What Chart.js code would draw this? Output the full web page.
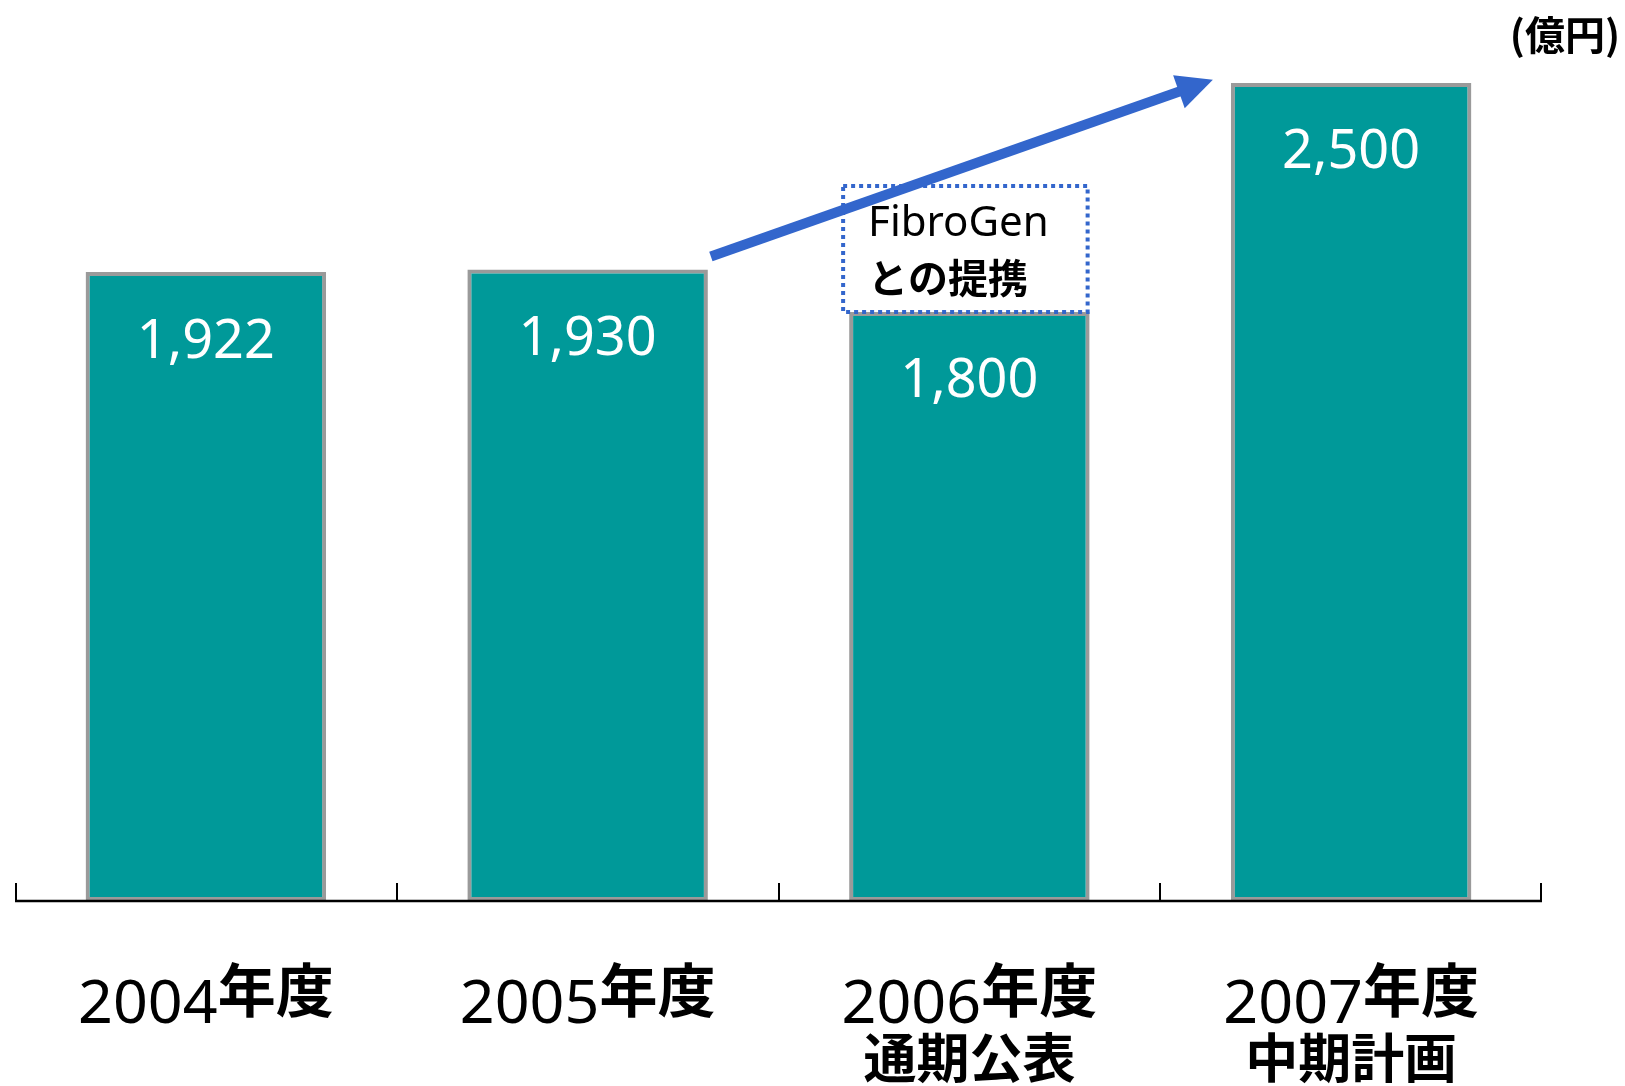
<!DOCTYPE html>
<html>
<head>
<meta charset="utf-8">
<script src="https://cdn.jsdelivr.net/npm/chart.js@4.4.1/dist/chart.umd.min.js"></script>
<style>
  html, body { margin: 0; padding: 0; background: #ffffff; }
  #wrap { width: 1625px; height: 1086px; position: relative; }
  canvas { display: block; }
</style>
</head>
<body>
<div id="wrap"><canvas id="c" width="1625" height="1086"></canvas></div>
<script>
// ---- Data ----
const yearLabels = ['2004', '2005', '2006', '2007'];
const yearSuffix = ['年度', '年度', '年度', '年度'];
const subLabels = ['', '', '通期公表', '中期計画'];
const salesValues = [1922, 1930, 1800, 2500];
const valueLabels = ['1,922', '1,930', '1,800', '2,500'];
const unitLabel = '(億円)';
const noteLines = ['FibroGen', 'との提携'];
const noteTopValue = 2185;      // top of the dotted note box (value units)
const noteCategory = 2;         // index of 2006
const arrowFrom = { index: 1, value: 1970 };
const arrowTo = { index: 3, value: 2510 };

const TEAL = '#009999';
const GRAY = '#9a9a9a';
const BLUE = '#3366cc';
const CJK = '"Noto Sans CJK JP", "Noto Sans", sans-serif';
const LAT = '"Noto Sans", "Open Sans", sans-serif';

const overlay = {
  id: 'overlay',
  afterDatasetsDraw(chart) {
    const ctx = chart.ctx;
    const x = chart.scales.x, y = chart.scales.y;
    const area = chart.chartArea;
    const meta = chart.getDatasetMeta(0);
    const catW = (area.right - area.left) / yearLabels.length;

    // Axis line and upward ticks
    ctx.save();
    ctx.strokeStyle = '#000';
    ctx.lineWidth = 2.5;
    ctx.beginPath();
    ctx.moveTo(area.left, area.bottom);
    ctx.lineTo(area.right, area.bottom);
    ctx.stroke();
    ctx.lineWidth = 2;
    for (let i = 0; i <= yearLabels.length; i++) {
      const px = Math.round(area.left + catW * i) + (i === 0 ? 1 : (i === yearLabels.length ? -1 : 0));
      ctx.beginPath();
      ctx.moveTo(px, area.bottom);
      ctx.lineTo(px, area.bottom - 18);
      ctx.stroke();
    }
    ctx.restore();

    // Value labels inside bars
    ctx.save();
    ctx.fillStyle = '#ffffff';
    ctx.font = '54px ' + LAT;
    ctx.textAlign = 'center';
    ctx.textBaseline = 'middle';
    meta.data.forEach((bar, i) => {
      ctx.fillText(valueLabels[i], bar.x, bar.y + 70);
    });
    ctx.restore();

    // Category labels
    ctx.save();
    ctx.fillStyle = '#000';
    ctx.textBaseline = 'alphabetic';
    yearLabels.forEach((yr, i) => {
      const cx = x.getPixelForValue(i);
      ctx.font = '61px ' + LAT;
      const w1 = ctx.measureText(yr).width;
      ctx.font = 'bold 58px ' + CJK;
      const w2 = ctx.measureText(yearSuffix[i]).width;
      const start = cx - (w1 + w2) / 2;
      ctx.textAlign = 'left';
      ctx.font = '61px ' + LAT;
      ctx.fillText(yr, start, 1023);
      ctx.font = 'bold 58px ' + CJK;
      ctx.fillText(yearSuffix[i], start + w1, 1012);
      if (subLabels[i]) {
        ctx.textAlign = 'center';
        ctx.font = 'bold 53px ' + CJK;
        ctx.fillText(subLabels[i], cx, 1078);
      }
    });
    ctx.restore();

    // Unit label
    ctx.save();
    ctx.fillStyle = '#000';
    ctx.font = 'bold 40px ' + CJK;
    ctx.textAlign = 'right';
    ctx.textBaseline = 'middle';
    ctx.fillText(unitLabel, 1620, 35);
    ctx.restore();

    // Dotted note box above the 2006 bar
    const nb = meta.data[noteCategory];
    const half = nb.width / 2;
    const bx0 = nb.x - half - 6, bx1 = nb.x + half - 2;
    const by0 = y.getPixelForValue(noteTopValue), by1 = nb.y;
    ctx.save();
    ctx.fillStyle = '#ffffff';
    ctx.fillRect(bx0, by0, bx1 - bx0, by1 - by0);
    ctx.strokeStyle = BLUE;
    ctx.lineWidth = 4;
    ctx.setLineDash([4, 4]);
    ctx.strokeRect(bx0, by0, bx1 - bx0, by1 - by0);
    ctx.setLineDash([]);
    ctx.fillStyle = '#000';
    ctx.textAlign = 'left';
    ctx.textBaseline = 'middle';
    ctx.font = '42px ' + LAT;
    ctx.fillText(noteLines[0], bx0 + 25, by0 + 38);
    ctx.font = 'bold 40px ' + CJK;
    ctx.fillText(noteLines[1], bx0 + 25, by0 + 92);
    ctx.restore();

    // Arrow
    const fb = meta.data[arrowFrom.index], tb = meta.data[arrowTo.index];
    const sx = fb.x + fb.width / 2 + 3, sy = y.getPixelForValue(arrowFrom.value);
    const ex = tb.x - tb.width / 2 - 18, ey = y.getPixelForValue(arrowTo.value);
    const ang = Math.atan2(ey - sy, ex - sx);
    const headLen = 36, headHalf = 17.5;
    const bxm = ex - headLen * Math.cos(ang), bym = ey - headLen * Math.sin(ang);
    ctx.save();
    ctx.strokeStyle = BLUE;
    ctx.fillStyle = BLUE;
    ctx.lineWidth = 10;
    ctx.beginPath();
    ctx.moveTo(sx, sy);
    ctx.lineTo(bxm + 2 * Math.cos(ang), bym + 2 * Math.sin(ang));
    ctx.stroke();
    ctx.beginPath();
    ctx.moveTo(ex, ey);
    ctx.lineTo(bxm + headHalf * Math.sin(ang), bym - headHalf * Math.cos(ang));
    ctx.lineTo(bxm - headHalf * Math.sin(ang), bym + headHalf * Math.cos(ang));
    ctx.closePath();
    ctx.fill();
    ctx.restore();
  }
};

new Chart(document.getElementById('c'), {
  type: 'bar',
  data: {
    labels: yearLabels,
    datasets: [{
      data: salesValues,
      backgroundColor: TEAL,
      borderColor: GRAY,
      borderWidth: 4,
      borderSkipped: false,
      barPercentage: 0.63,
      categoryPercentage: 1.0
    }]
  },
  options: {
    responsive: false,
    animation: false,
    devicePixelRatio: 1,
    layout: { padding: { left: 15, right: 83, top: 83, bottom: 185 } },
    plugins: { legend: { display: false }, tooltip: { enabled: false } },
    scales: {
      x: { display: false, offset: true },
      y: { display: false, min: 0, max: 2500 }
    }
  },
  plugins: [overlay]
});
</script>
</body>
</html>
